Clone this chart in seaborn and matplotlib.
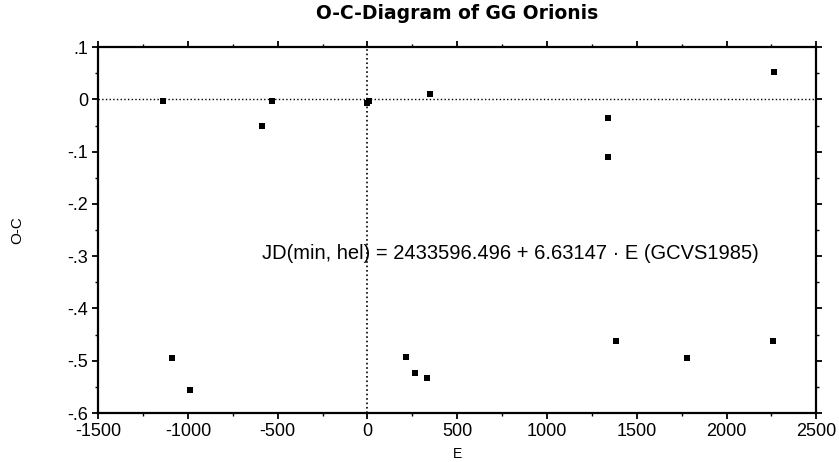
import numpy as np
import pandas as pd
import matplotlib
matplotlib.use("Agg")
import matplotlib.pyplot as plt
import seaborn as sns
from matplotlib.ticker import MultipleLocator, FuncFormatter

# epoch E and O-C values
epoch = [-1140, -1087, -986, -589, -533, 0, 10, 346, 1341, 1341, 2265,
         215, 262, 331, 1385, 1777, 2261]
o_c = [-0.004, -0.495, -0.556, -0.050, -0.004, -0.006, -0.003, 0.010, -0.035,
       -0.110, 0.053, -0.493, -0.523, -0.533, -0.462, -0.495, -0.462]

x_ticks = [-1500, -1000, -500, 0, 500, 1000, 1500, 2000, 2500]
y_ticks = [0.1, 0.0, -0.1, -0.2, -0.3, -0.4, -0.5, -0.6]

df = pd.DataFrame({"E": epoch, "O-C": o_c})

sns.set_style("ticks")
plt.rcParams['font.family'] = ['Liberation Sans', 'DejaVu Sans']

fig, ax = plt.subplots(figsize=(8.39, 4.62), dpi=100)
fig.subplots_adjust(left=0.117, right=0.973, top=0.898, bottom=0.106)

ax.axhline(0, color="black", linestyle=":", linewidth=1.0, zorder=1)
ax.axvline(0, color="black", linestyle=":", linewidth=1.2, zorder=1)

sns.scatterplot(data=df, x="E", y="O-C", marker="s", s=22, color="black",
                edgecolor="black", linewidth=0, ax=ax, zorder=3)

ax.set_xlim(-1500, 2500)
ax.set_ylim(-0.6, 0.1)
ax.set_xticks(x_ticks)
ax.set_yticks(y_ticks)
ax.xaxis.set_minor_locator(MultipleLocator(250))
ax.yaxis.set_minor_locator(MultipleLocator(0.05))


def fmt_y(v, pos):
    if abs(v) < 1e-9:
        return "0"
    return f"{v:.1f}".replace("0.", ".")


ax.yaxis.set_major_formatter(FuncFormatter(fmt_y))
ax.xaxis.set_major_formatter(FuncFormatter(lambda v, p: f"{int(v)}"))

for side in ["top", "right", "bottom", "left"]:
    ax.spines[side].set_visible(True)
    ax.spines[side].set_linewidth(1.6)
    ax.spines[side].set_color("black")

ax.tick_params(which="major", direction="out", length=4, width=1.3,
               top=True, right=True, labelsize=13, colors="black", pad=3)
ax.tick_params(which="minor", direction="out", length=2, width=1.0,
               top=True, right=True, colors="black")

ax.set_title("O-C-Diagram of GG Orionis", fontsize=13.5, fontweight="bold",
             family=["DejaVu Sans"], pad=20, color="black")
ax.set_xlabel("E", fontsize=10, labelpad=5, color="black")
ax.set_ylabel("O-C", fontsize=11, labelpad=31, color="black")

ax.text(-590, -0.295, "JD(min, hel) = 2433596.496 + 6.63147 \u00b7 E (GCVS1985)",
        fontsize=14.5, va="center", ha="left", color="black")

fig.savefig("out.png", dpi=100)
plt.close(fig)
